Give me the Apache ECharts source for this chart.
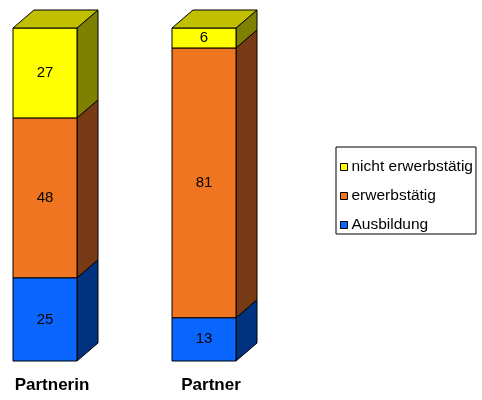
<!DOCTYPE html>
<html>
<head>
<meta charset="utf-8">
<script src="https://cdn.jsdelivr.net/npm/echarts@6/dist/echarts.min.js"></script>
<style>
  html, body { margin: 0; padding: 0; background: #fff; }
  #chart { width: 482px; height: 400px; }
</style>
</head>
<body>
<div id="chart"></div>
<script>
// Status shares (%) of the two partners
const categories = ['Partnerin', 'Partner'];
const seriesNames = ['Ausbildung', 'erwerbstätig', 'nicht erwerbstätig'];
const ausbildung = [25, 13];
const erwerbstaetig = [48, 81];
const nichtErwerbstaetig = [27, 6];
const legendOrder = ['nicht erwerbstätig', 'erwerbstätig', 'Ausbildung'];

// Face colours per series: front, side, top
const faceColors = [
  { front: '#0a66ff', side: '#00337f', top: '#0052cc' },
  { front: '#f07520', side: '#783a14', top: '#c05c18' },
  { front: '#ffff00', side: '#808000', top: '#c0c000' }
];

const stackValues = [ausbildung, erwerbstaetig, nichtErwerbstaetig];

// Cumulative base of each stacked segment
const bases = stackValues.map((vals, s) =>
  vals.map((_, i) => stackValues.slice(0, s).reduce((sum, arr) => sum + arr[i], 0))
);

const HALF_W = 32;   // half width of the front face
const DX = 21;       // depth offset to the right
const DY = 18;       // depth offset upwards

function makeRenderItem(s) {
  const isTop = s === stackValues.length - 1;
  const col = faceColors[s];
  return function (params, api) {
    const i = api.value(0);
    const v = api.value(1);
    const base = bases[s][i];
    const p0 = api.coord([i, base]);
    const p1 = api.coord([i, base + v]);
    const xl = p0[0] - HALF_W, xr = p0[0] + HALF_W;
    const yb = p0[1], yt = p1[1];
    const stroke = { stroke: '#000', lineWidth: 1 };
    const children = [
      {
        type: 'polygon',
        shape: { points: [[xr, yt], [xr + DX, yt - DY], [xr + DX, yb - DY], [xr, yb]] },
        style: Object.assign({ fill: col.side }, stroke)
      },
      {
        type: 'rect',
        shape: { x: xl, y: yt, width: xr - xl, height: yb - yt },
        style: Object.assign({ fill: col.front }, stroke)
      }
    ];
    if (isTop) {
      children.push({
        type: 'polygon',
        shape: { points: [[xl, yt], [xl + DX, yt - DY], [xr + DX, yt - DY], [xr, yt]] },
        style: Object.assign({ fill: col.top }, stroke)
      });
    }
    children.push({
      type: 'text',
      style: {
        text: String(v),
        x: p0[0],
        y: (yt + yb) / 2,
        align: 'center',
        verticalAlign: 'middle',
        fill: '#000',
        font: '15px "Liberation Sans", Arial, sans-serif'
      }
    });
    return { type: 'group', children: children };
  };
}

const chart = echarts.init(document.getElementById('chart'), null, { renderer: 'canvas' });

chart.setOption({
  backgroundColor: '#fff',
  animation: false,
  grid: { left: 45, right: 278, top: 28, bottom: 39 },
  xAxis: {
    type: 'category',
    data: categories,
    boundaryGap: false,
    axisLine: { show: false },
    axisTick: { show: false },
    splitLine: { show: false },
    axisLabel: {
      margin: 16,
      padding: [0, 0, 0, 14],
      color: '#000',
      fontSize: 17,
      fontWeight: 'bold',
      fontFamily: '"Liberation Sans", Arial, sans-serif'
    }
  },
  yAxis: {
    type: 'value',
    min: 0,
    max: 100,
    show: false
  },
  legend: {
    data: legendOrder,
    orient: 'vertical',
    left: 336,
    top: 147,
    padding: [12, 3, 1, 4],
    itemWidth: 7,
    itemHeight: 7,
    itemGap: 13,
    icon: 'rect',
    borderColor: '#000',
    borderWidth: 1,
    itemStyle: { borderColor: '#000', borderWidth: 1 },
    textStyle: {
      color: '#000',
      fontSize: 15.5,
      fontFamily: '"Liberation Sans", Arial, sans-serif',
      padding: [0, 0, 0, -1]
    }
  },
  series: stackValues.map((vals, s) => ({
    type: 'custom',
    name: seriesNames[s],
    itemStyle: { color: faceColors[s].front },
    renderItem: makeRenderItem(s),
    encode: { x: 0, y: 1 },
    data: vals.map((v, i) => [i, v])
  }))
});
</script>
</body>
</html>
